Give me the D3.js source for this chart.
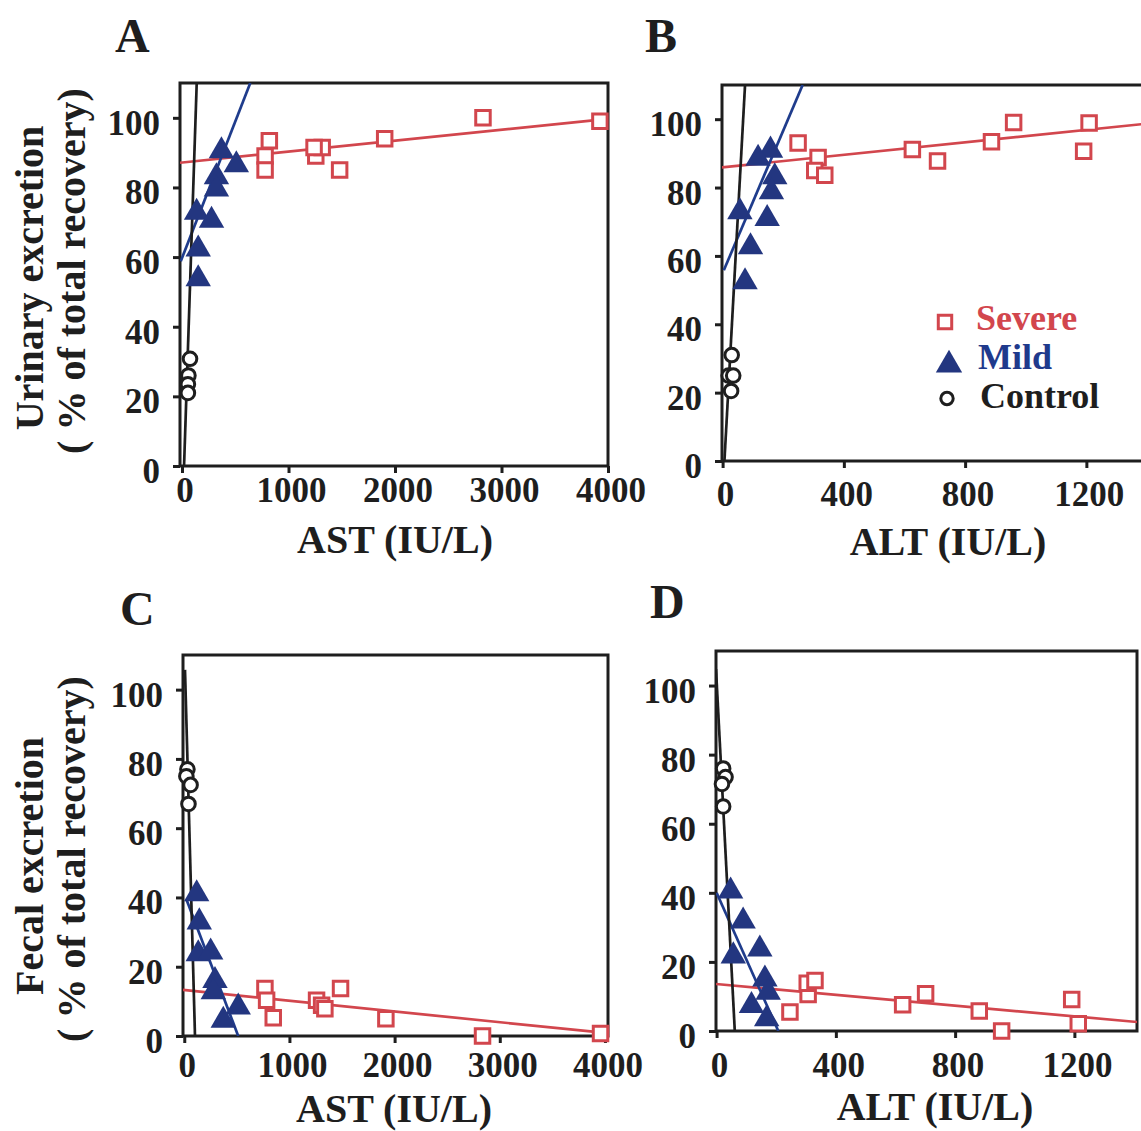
<!DOCTYPE html>
<html>
<head>
<meta charset="utf-8">
<script src="https://cdn.jsdelivr.net/npm/d3@7"></script>
<style>
  body { margin: 0; background: #fff; }
  svg text { font-family: "Liberation Serif", "Times New Roman", serif; font-weight: bold; }
</style>
</head>
<body>
<svg id="chart" width="1141" height="1131"></svg>
<script>
// tick values
var astTicks = [0, 1000, 2000, 3000, 4000];
var altTicks = [0, 400, 800, 1200];
var pctTicks = [0, 20, 40, 60, 80, 100];

// A: urinary excretion vs AST
var urineAstSevere = [[820, 93.4], [780, 89], [780, 85], [1256, 89], [1316, 91.5], [1240, 91.5], [1480, 85], [1903, 94], [2826, 100], [3924, 99]];
var urineAstMild = [[370, 90.5], [510, 86.5], [323, 83], [323, 79.5], [137, 72.8], [277, 70.5], [152, 62.3], [152, 53.7]];
var urineAstControl = [[75, 30.8], [60, 26], [55, 23.5], [55, 21]];
var urineAstFit = { severe: [[-19, 87.1], [4000, 99.7]], mild: [[-12, 58.8], [641, 110]], control: [[19, 0], [138, 110]] };

// B: urinary excretion vs ALT
var urineAltSevere = [[249, 93], [315, 88.8], [304, 85], [337, 83.6], [626, 91.1], [709, 87.8], [887, 93.4], [960, 99], [1191, 90.6], [1209, 98.9]];
var urineAltMild = [[158, 90.9], [117, 88.5], [172, 83.1], [161, 78.7], [57, 72.9], [147, 70.9], [92, 62.6], [74, 52.4]];
var urineAltControl = [[30, 31], [20, 25], [35, 25], [28, 20.5]];
var urineAltFit = { severe: [[-2, 85.9], [1400, 98.7]], mild: [[4, 55.8], [264, 110]], control: [[6, 0], [74, 110]] };

// C: fecal excretion vs AST
var fecalAstSevere = [[767, 13.7], [783, 10.3], [846, 5.3], [1258, 10.3], [1306, 8.9], [1337, 7.9], [1486, 13.7], [1917, 5], [2836, 0], [3958, 0.7]];
var fecalAstMild = [[118, 41], [143, 32.9], [133, 23.7], [251, 24.2], [292, 16], [276, 12.7], [513, 8.3], [371, 4.5]];
var fecalAstControl = [[30, 77], [20, 75], [60, 72.5], [40, 67]];
var fecalAstFit = { severe: [[-12, 13.3], [4029, 0.8]], mild: [[20, 39.5], [513, 0]], control: [[7, 105.7], [102, 0]] };

// D: fecal excretion vs ALT
var fecalAltSevere = [[246, 5.5], [307, 10.6], [304, 13.8], [330, 14.6], [624, 7.6], [701, 10.8], [881, 5.8], [956, 0], [1191, 9.1], [1213, 2.1]];
var fecalAltMild = [[47, 40.5], [89, 31.8], [56, 21.7], [145, 23.7], [162, 15], [173, 11.2], [117, 7.3], [168, 3.5]];
var fecalAltControl = [[22, 76], [30, 73.5], [18, 71.5], [22, 65]];
var fecalAltFit = { severe: [[-2, 13.6], [1410, 2.6]], mild: [[0, 40], [207, 0]], control: [[-2, 104.8], [61, 0]] };

var legendLabels = ["Severe", "Mild", "Control"];

var RED = "#d2464d", BLUE = "#233680", BLUE_LINE = "#1f3c8c", INK = "#1e1e1e";

var svg = d3.select("#chart");

var panels = [
  { id: "A", left: 180, top: 83, right: 608, bottom: 466, xd: [-19, 4000], ticks: astTicks,
    sev: urineAstSevere, mild: urineAstMild, ctl: urineAstControl, fit: urineAstFit,
    title: "AST (IU/L)", tx: 395, ty: 553, lab: 36, letter: [115, 52] },
  { id: "B", left: 722, top: 85, right: 1147, bottom: 461, xd: [-2, 1400], ticks: altTicks,
    sev: urineAltSevere, mild: urineAltMild, ctl: urineAltControl, fit: urineAltFit,
    title: "ALT (IU/L)", tx: 948, ty: 555, lab: 45, letter: [645, 52] },
  { id: "C", left: 183, top: 655, right: 608, bottom: 1036, xd: [-12, 4029], ticks: astTicks,
    sev: fecalAstSevere, mild: fecalAstMild, ctl: fecalAstControl, fit: fecalAstFit,
    title: "AST (IU/L)", tx: 394, ty: 1122, lab: 41, letter: [120, 625] },
  { id: "D", left: 716, top: 651, right: 1137, bottom: 1031, xd: [-2, 1410], ticks: altTicks,
    sev: fecalAltSevere, mild: fecalAltMild, ctl: fecalAltControl, fit: fecalAltFit,
    title: "ALT (IU/L)", tx: 935, ty: 1120, lab: 46, letter: [650, 618] }
];

var sq = d3.symbol().type(d3.symbolSquare).size(210);
var tri = d3.symbol().type(d3.symbolTriangle).size(280);

panels.forEach(function(p) {
  var x = d3.scaleLinear().domain(p.xd).range([p.left, p.right]);
  var y = d3.scaleLinear().domain([0, 110]).range([p.bottom, p.top]);
  var g = svg.append("g");

  g.append("clipPath").attr("id", "clip" + p.id)
    .append("rect")
    .attr("x", p.left).attr("y", p.top)
    .attr("width", p.right - p.left).attr("height", p.bottom - p.top);

  // frame
  g.append("rect")
    .attr("x", p.left).attr("y", p.top)
    .attr("width", p.right - p.left).attr("height", p.bottom - p.top)
    .attr("fill", "none").attr("stroke", INK).attr("stroke-width", 3);

  // axes
  var yAxis = g.append("g")
    .attr("transform", "translate(" + p.left + ",0)")
    .call(d3.axisLeft(y).tickValues(pctTicks).tickSize(7).tickFormat(""));
  var xAxis = g.append("g")
    .attr("transform", "translate(0," + p.bottom + ")")
    .call(d3.axisBottom(x).tickValues(p.ticks).tickSize(7).tickFormat(""));
  [xAxis, yAxis].forEach(function(a) {
    a.select(".domain").remove();
    a.selectAll("line").attr("stroke", INK).attr("stroke-width", 3);
  });

  g.selectAll(".ylab").data(pctTicks).enter().append("text")
    .attr("x", p.left - 20).attr("y", function(d) { return y(d) + 17; })
    .attr("text-anchor", "end").attr("font-size", 35).attr("fill", INK)
    .text(function(d) { return d; });

  g.selectAll(".xlab").data(p.ticks).enter().append("text")
    .attr("x", function(d) { return x(d) + 3; }).attr("y", p.bottom + p.lab)
    .attr("text-anchor", "middle").attr("font-size", 35).attr("fill", INK)
    .text(function(d) { return d; });

  g.append("text")
    .attr("x", p.tx).attr("y", p.ty)
    .attr("text-anchor", "middle").attr("font-size", 40).attr("fill", INK)
    .text(p.title);

  g.append("text")
    .attr("x", p.letter[0]).attr("y", p.letter[1])
    .attr("font-size", 48).attr("fill", INK)
    .text(p.id);

  // fit lines
  var line = d3.line().x(function(d) { return x(d[0]); }).y(function(d) { return y(d[1]); });
  var lines = g.append("g").attr("clip-path", "url(#clip" + p.id + ")");
  [["severe", RED], ["mild", BLUE_LINE], ["control", INK]].forEach(function(s) {
    lines.append("path").datum(p.fit[s[0]])
      .attr("d", line).attr("fill", "none")
      .attr("stroke", s[1]).attr("stroke-width", 2.7);
  });

  // markers
  g.selectAll(".ctl").data(p.ctl).enter().append("circle")
    .attr("cx", function(d) { return x(d[0]); }).attr("cy", function(d) { return y(d[1]); })
    .attr("r", 6.8).attr("fill", "#fff").attr("stroke", INK).attr("stroke-width", 3);

  g.selectAll(".sev").data(p.sev).enter().append("path")
    .attr("d", sq)
    .attr("transform", function(d) { return "translate(" + x(d[0]) + "," + y(d[1]) + ")"; })
    .attr("fill", "#fff").attr("stroke", RED).attr("stroke-width", 3);

  g.selectAll(".mild").data(p.mild).enter().append("path")
    .attr("d", tri)
    .attr("transform", function(d) { return "translate(" + x(d[0]) + "," + y(d[1]) + ")"; })
    .attr("fill", BLUE);
});

// y axis titles
[["Urinary excretion", 278, 43], ["( % of total recovery)", 271, 85],
 ["Fecal excretion", 866, 43], ["( % of total recovery)", 859, 85]].forEach(function(t) {
  svg.append("text")
    .attr("transform", "translate(" + t[2] + "," + t[1] + ") rotate(-90)")
    .attr("text-anchor", "middle").attr("font-size", 40).attr("fill", INK)
    .text(t[0]);
});

// legend in panel B
var legend = svg.append("g");
var legendColors = [RED, "#1f3a8c", INK];
legend.append("path").attr("d", d3.symbol().type(d3.symbolSquare).size(180))
  .attr("transform", "translate(945,322)")
  .attr("fill", "#fff").attr("stroke", RED).attr("stroke-width", 3);
legend.append("path").attr("d", d3.symbol().type(d3.symbolTriangle).size(300))
  .attr("transform", "translate(949,365)")
  .attr("fill", BLUE);
legend.append("circle").attr("cx", 947).attr("cy", 398.5).attr("r", 6.2)
  .attr("fill", "#fff").attr("stroke", INK).attr("stroke-width", 3);
legend.selectAll("text").data(legendLabels).enter().append("text")
  .attr("x", function(d, i) { return [976, 978, 980][i]; })
  .attr("y", function(d, i) { return [330, 369, 408][i]; })
  .attr("font-size", 36)
  .attr("fill", function(d, i) { return legendColors[i]; })
  .text(function(d) { return d; });
</script>
</body>
</html>
